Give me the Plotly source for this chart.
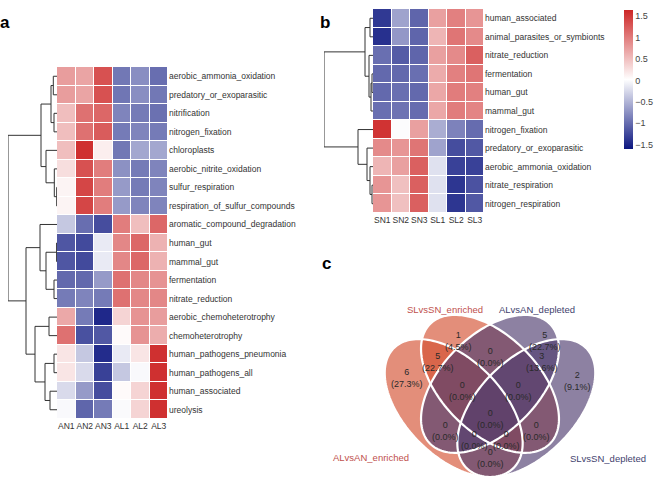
import numpy as np
import plotly.graph_objects as go

W, H = 669, 481
FONT = "Liberation Sans, Arial, sans-serif"

# ---------------- Panel a data ----------------
cols_a = ["AN1", "AN2", "AN3", "AL1", "AL2", "AL3"]
rows_a = ["aerobic_ammonia_oxidation", "predatory_or_exoparasitic", "nitrification",
          "nitrogen_fixation", "chloroplasts", "aerobic_nitrite_oxidation",
          "sulfur_respiration", "respiration_of_sulfur_compounds",
          "aromatic_compound_degradation", "human_gut", "mammal_gut", "fermentation",
          "nitrate_reduction", "aerobic_chemoheterotrophy", "chemoheterotrophy",
          "human_pathogens_pneumonia", "human_pathogens_all", "human_associated", "ureolysis"]
z_a = [
    [0.86, 0.80, 1.52, -1.10, -0.92, -1.18],
    [0.86, 0.80, 1.52, -1.12, -0.92, -1.10],
    [0.57, 1.24, 1.33, -1.00, -1.08, -1.16],
    [0.57, 1.24, 1.43, -1.08, -1.00, -1.08],
    [0.57, 1.81, 0.15, -1.10, -0.72, -0.72],
    [0.29, 1.52, 1.14, -0.90, -1.08, -1.00],
    [0.10, 1.62, 1.14, -0.82, -1.08, -1.00],
    [0.10, 1.62, 1.14, -0.82, -1.00, -1.00],
    [-0.45, -1.18, -1.45, 1.14, 0.57, 1.33],
    [-1.38, -1.48, -0.17, 1.05, 1.33, 0.67],
    [-1.38, -1.48, -0.17, 1.05, 1.33, 0.67],
    [-1.22, -1.22, -0.82, 1.24, 1.05, 0.95],
    [-1.08, -1.00, -1.08, 1.24, 1.05, 1.05],
    [0.76, -1.08, -1.75, 0.38, 0.95, 0.86],
    [1.24, -1.42, -1.36, 0.04, 0.95, 0.72],
    [0.23, -0.45, -1.72, -0.17, 0.23, 1.81],
    [0.23, -0.30, -1.55, -0.45, -0.05, 1.81],
    [-0.30, -0.82, -1.45, 0.04, 0.38, 1.81],
    [-0.05, -1.25, -1.08, -0.04, 0.38, 1.81],
]
# row dendrogram: (child1, child2, height); leaves 0..n-1, new clusters n, n+1, ...
tree_a = [(0, 1, 3.7), (2, 3, 3.0), (19, 20, 6.0), (6, 7, 0.3), (5, 22, 2.7),
          (4, 23, 11.0), (21, 24, 16.0), (9, 10, 0.4), (11, 12, 3.0), (26, 27, 11.0),
          (8, 28, 17.0), (13, 14, 8.0), (15, 16, 3.0), (17, 18, 7.0), (31, 32, 12.0),
          (30, 33, 22.0), (29, 34, 31.0), (25, 35, 49.0)]

# ---------------- Panel b data ----------------
cols_b = ["SN1", "SN2", "SN3", "SL1", "SL2", "SL3"]
rows_b = ["human_associated", "animal_parasites_or_symbionts", "nitrate_reduction",
          "fermentation", "human_gut", "mammal_gut", "nitrogen_fixation",
          "predatory_or_exoparasitic", "aerobic_ammonia_oxidation",
          "nitrate_respiration", "nitrogen_respiration"]
z_b = [
    [-1.36, -0.62, -1.05, 0.73, 0.97, 0.81],
    [-1.42, -0.70, -1.05, 0.57, 1.05, 0.89],
    [-0.98, -1.12, -1.05, 0.73, 0.89, 1.21],
    [-1.02, -1.02, -0.98, 0.65, 0.97, 1.05],
    [-1.02, -0.98, -1.02, 0.68, 1.00, 0.97],
    [-0.98, -0.95, -1.00, 0.68, 1.00, 0.94],
    [1.54, 0.00, 0.73, -0.55, -0.85, -1.00],
    [0.89, 0.81, 1.05, -0.62, -1.22, -1.14],
    [0.57, 0.73, 1.21, -0.19, -1.30, -1.30],
    [0.81, 0.49, 1.21, -0.19, -1.38, -1.18],
    [0.81, 0.49, 1.21, -0.19, -1.38, -1.14],
]
tree_b = [(0, 1, 3.0), (3, 4, 1.0), (12, 5, 2.0), (2, 13, 4.0), (11, 14, 8.0),
          (9, 10, 1.0), (8, 16, 3.0), (7, 17, 6.0), (6, 18, 15.0), (15, 19, 49.0)]
cbar_ticks = [-1.5, -1, -0.5, 0, 0.5, 1, 1.5]

# ---------------- Panel c data ----------------
venn_sets = ["ALvsAN_enriched", "SLvsSN_enriched", "ALvsAN_depleted", "SLvsSN_depleted"]
venn_regions = ["1", "2", "12", "23", "3", "34", "4", "123", "234", "1234",
                "13", "24", "134", "124", "14"]
venn_counts = [6, 1, 5, 0, 5, 3, 2, 0, 0, 0, 0, 0, 0, 0, 0]

# ---------------- layout helpers ----------------
def px_x(p):
    return p / W

def px_y(p):
    return 1 - p / H

CS = [[0, "#0c1680"], [0.5, "#ffffff"], [1, "#cd2626"]]
TXT = "#333333"

fig = go.Figure()


def dendro_xy(n, merges):
    pos = {i: (0.0, float(i)) for i in range(n)}
    xs, ys = [], []
    for k, (a, b, h) in enumerate(merges):
        ha, ya = pos[a]
        hb, yb = pos[b]
        xs += [ha, h, h, hb, None]
        ys += [ya, ya, yb, yb, None]
        pos[n + k] = (h, (ya + yb) / 2)
    return xs, ys


# heatmap a
fig.add_trace(go.Heatmap(z=z_a, x=list(range(len(cols_a))), y=list(range(len(rows_a))),
                         colorscale=CS, zmin=-1.9, zmax=1.9, xgap=1, ygap=1,
                         showscale=False, hoverinfo="skip", xaxis="x", yaxis="y"))
dx, dy = dendro_xy(len(rows_a), tree_a)
fig.add_trace(go.Scatter(x=dx, y=dy, mode="lines", line=dict(color="#333333", width=1),
                         hoverinfo="skip", showlegend=False, cliponaxis=False,
                         xaxis="x2", yaxis="y2"))

# heatmap b
fig.add_trace(go.Heatmap(z=z_b, x=list(range(len(cols_b))), y=list(range(len(rows_b))),
                         colorscale=CS, zmin=-1.6, zmax=1.64, xgap=1, ygap=1,
                         hoverinfo="skip", xaxis="x3", yaxis="y3",
                         colorbar=dict(thickness=9, thicknessmode="pixels",
                                       len=139, lenmode="pixels",
                                       x=px_x(624), xanchor="left",
                                       y=px_y(10), yanchor="top",
                                       xpad=0, ypad=0, outlinewidth=0,
                                       tickvals=cbar_ticks, ticks="",
                                       tickfont=dict(size=9, color="#444444", family=FONT))))
dx, dy = dendro_xy(len(rows_b), tree_b)
fig.add_trace(go.Scatter(x=dx, y=dy, mode="lines", line=dict(color="#333333", width=1),
                         hoverinfo="skip", showlegend=False, cliponaxis=False,
                         xaxis="x4", yaxis="y4"))

hidden = dict(visible=False, showgrid=False, zeroline=False, fixedrange=True)


def heat_axes(xd, yd, nrow, ncol, cols, rows, xa, ya, anchor_x, anchor_y):
    fig.layout[xa] = dict(domain=[px_x(xd[0]), px_x(xd[1])], anchor=anchor_y,
                          range=[-0.5, ncol - 0.5], tickvals=list(range(ncol)), ticktext=cols,
                          ticks="", tickangle=0, showgrid=False, zeroline=False, showline=False,
                          tickfont=dict(size=8.5, color=TXT, family=FONT), fixedrange=True)
    fig.layout[ya] = dict(domain=[px_y(yd[1]), px_y(yd[0])], anchor=anchor_x, side="right",
                          range=[nrow - 0.5, -0.5], tickvals=list(range(nrow)), ticktext=rows,
                          ticks="", showgrid=False, zeroline=False, showline=False,
                          tickfont=dict(size=8.5, color=TXT, family=FONT), fixedrange=True)


heat_axes((57, 168), (67, 419), len(rows_a), len(cols_a), cols_a, rows_a, "xaxis", "yaxis", "x", "y")
heat_axes((373, 484), (9, 213), len(rows_b), len(cols_b), cols_b, rows_b, "xaxis3", "yaxis3", "x3", "y3")

fig.layout["xaxis2"] = dict(hidden, domain=[px_x(8), px_x(57)], range=[tree_a[-1][2], 0], anchor="y2")
fig.layout["yaxis2"] = dict(hidden, domain=[px_y(419), px_y(67)], range=[len(rows_a) - 0.5, -0.5], anchor="x2")
fig.layout["xaxis4"] = dict(hidden, domain=[px_x(324), px_x(373)], range=[tree_b[-1][2], 0], anchor="y4")
fig.layout["yaxis4"] = dict(hidden, domain=[px_y(213), px_y(9)], range=[len(rows_b) - 0.5, -0.5], anchor="x4")

# ---------------- Venn (panel c) ----------------
S = 242.0        # px per venn unit
CX, CY = 490.0, 477.0  # pixel of unit (0.5, 0.185)


def u_of(p):
    return (p - CX) / S + 0.5


def v_of(p):
    return 0.185 + (CY - p) / S


vx0, vx1, vy0, vy1 = 340, 669, 285, 481
fig.layout["xaxis5"] = dict(hidden, domain=[px_x(vx0), px_x(vx1)], range=[u_of(vx0), u_of(vx1)], anchor="y5")
fig.layout["yaxis5"] = dict(hidden, domain=[px_y(vy1), px_y(vy0)], range=[v_of(vy1), v_of(vy0)], anchor="x5")

ellipses = [(0.35, 0.47, 135), (0.5, 0.57, 135), (0.5, 0.57, 45), (0.65, 0.47, 45)]
fills = ["rgba(212,82,50,0.65)", "rgba(212,82,50,0.65)",
         "rgba(80,62,112,0.65)", "rgba(80,62,112,0.65)"]


def ellipse_path(cx, cy, a, b, rot, n=160):
    t = np.linspace(0, 2 * np.pi, n, endpoint=False)
    r = np.deg2rad(rot)
    x = cx + a * np.cos(t) * np.cos(r) - b * np.sin(t) * np.sin(r)
    y = cy + a * np.cos(t) * np.sin(r) + b * np.sin(t) * np.cos(r)
    return "M " + " L ".join(f"{xi:.4f},{yi:.4f}" for xi, yi in zip(x, y)) + " Z"


shapes = []
for (cx, cy, rot), fc in zip(ellipses, fills):
    shapes.append(dict(type="path", path=ellipse_path(cx, cy, 0.35, 0.2, rot), xref="x5", yref="y5",
                       fillcolor=fc, line=dict(width=0), layer="above"))
for (cx, cy, rot) in ellipses:
    shapes.append(dict(type="path", path=ellipse_path(cx, cy, 0.35, 0.2, rot), xref="x5", yref="y5",
                       fillcolor="rgba(0,0,0,0)", line=dict(color="white", width=2.2), layer="above"))
fig.update_layout(shapes=shapes)

region_pos = {"1": (407, 378), "2": (458, 341), "12": (438, 362), "23": (490, 357),
              "3": (545, 341), "34": (542, 362), "4": (577, 381), "123": (462, 391),
              "234": (518, 391), "1234": (490, 419), "13": (445, 431), "24": (536, 431),
              "134": (474, 440), "124": (506, 440), "14": (490, 458)}
total = sum(venn_counts)
annotations = []
for reg, cnt in zip(venn_regions, venn_counts):
    px, py = region_pos[reg]
    annotations.append(dict(x=u_of(px), y=v_of(py), xref="x5", yref="y5", showarrow=False,
                            xanchor="center", yanchor="middle",
                            text=f"{cnt}<br>({100 * cnt / total:.1f}%)",
                            font=dict(size=9, color="#2a2a2a", family=FONT)))

cat_pos = [(371, 457), (445, 309), (537, 309), (608, 458)]
cat_col = ["#c0504d", "#c0504d", "#3f3f6e", "#3f3f6e"]
for name, (px, py), col in zip(venn_sets, cat_pos, cat_col):
    annotations.append(dict(x=u_of(px), y=v_of(py), xref="x5", yref="y5", showarrow=False,
                            xanchor="center", yanchor="middle",
                            text=name, font=dict(size=9.5, color=col, family=FONT)))

for letter, (px, py) in zip(["a", "b", "c"], [(5, 22), (325, 22), (326, 263)]):
    annotations.append(dict(x=px_x(px), y=px_y(py), xref="paper", yref="paper", showarrow=False,
                            xanchor="center", yanchor="middle",
                            text=f"<b>{letter}</b>", font=dict(size=17, color="black", family=FONT)))

fig.update_layout(annotations=annotations, width=W, height=H,
                  margin=dict(l=0, r=0, t=0, b=0, pad=0),
                  paper_bgcolor="white", plot_bgcolor="white", showlegend=False)

fig.write_html("out.html", config={"displayModeBar": False},
               post_script="document.body.style.margin='0';")
